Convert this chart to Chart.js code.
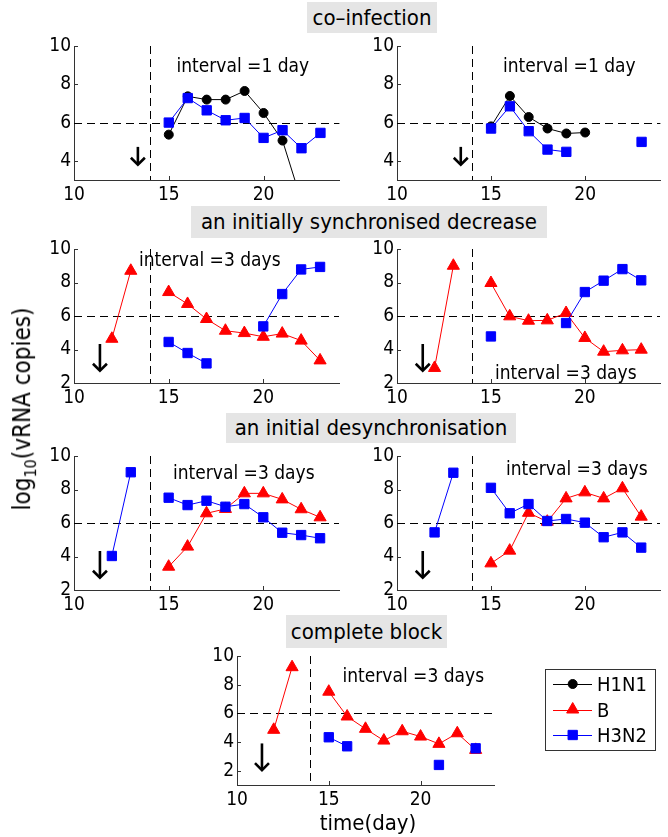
<!DOCTYPE html>
<html><head><meta charset="utf-8">
<script src="https://cdn.jsdelivr.net/npm/chart.js@4/dist/chart.umd.min.js"></script>
<style>
html,body{margin:0;padding:0;background:#fff;}
#root{position:relative;width:668px;height:837px;overflow:hidden;font-family:"DejaVu Sans Condensed","DejaVu Sans",sans-serif;color:#000;}
canvas.cv{position:absolute;}
.title{position:absolute;background:#e5e5e5;font-size:22px;text-align:center;white-space:nowrap;z-index:3;}
.txt{position:absolute;font-size:19px;white-space:nowrap;transform:translateY(-50%);z-index:3;}
#ylab{position:absolute;left:24px;top:409px;font-size:24px;white-space:nowrap;transform:translate(-50%,-50%) rotate(-90deg);}
#ylab sub{font-size:16px;}
#xlab{position:absolute;left:368px;top:822px;font-size:22px;white-space:nowrap;transform:translate(-50%,-50%);}
#legend{position:absolute;left:545px;top:669px;width:111px;height:82px;border:1px solid #333;box-sizing:border-box;background:#fff;}
#legend canvas{position:absolute;left:0;top:0;}
#legend span{position:absolute;left:51px;font-size:20px;transform:translateY(-50%);white-space:nowrap;}
</style></head><body><div id="root"></div>
<script>
// ---------------- data ----------------
const DAYS = [12, 13, 14, 15, 16, 17, 18, 19, 20, 21, 22, 23];
const X_TICKS = [10, 15, 20];
const Y_TICKS_TOP = [4, 6, 8, 10];
const Y_TICKS = [2, 4, 6, 8, 10];
const THRESHOLD_DAY = 14;
const THRESHOLD_LOAD = 6;
const SERIES_NAMES = ['H1N1', 'B', 'H3N2'];

const TITLES = ['co\u2013infection', 'an initially synchronised decrease', 'an initial desynchronisation', 'complete block'];
const INTERVAL_1 = 'interval =1 day';
const INTERVAL_3 = 'interval =3 days';

// panel 1 (co-infection, left)
const p1_H1N1 = [null, null, null, 5.37, 7.37, 7.2, 7.2, 7.65, 6.5, 5.06, 1.9, null];
const p1_H3N2 = [null, null, null, 6.0, 7.28, 6.64, 6.12, 6.24, 5.2, 5.6, 4.66, 5.46];
// panel 2 (co-infection, right)
const p2_H1N1 = [null, null, null, 5.8, 7.39, 6.29, 5.69, 5.43, 5.48, null, null, null];
const p2_H3N2 = [null, null, null, 5.69, 6.85, 5.55, 4.59, 4.47, null, null, null, 4.99];
// panel 3 (synchronised decrease, left)
const p3_B    = [4.64, 8.7, null, 7.43, 6.72, 5.82, 5.12, 4.98, 4.76, 4.95, 4.53, 3.35];
const p3_H3N2 = [null, null, null, 4.45, 3.79, 3.17, null, null, 5.38, 7.31, 8.78, 8.93];
// panel 4 (synchronised decrease, right)
const p4_B    = [2.9, 9.0, null, 7.97, 5.98, 5.72, 5.74, 6.18, 4.69, 3.87, 3.95, 3.99];
const p4_H3N2 = [null, null, null, 4.78, null, null, null, 5.58, 7.43, 8.11, 8.8, 8.13];
// panel 5 (desynchronisation, left)
const p5_B    = [null, null, null, 3.39, 4.59, 6.58, 6.84, 7.77, 7.77, 7.41, 6.82, 6.34];
const p5_H3N2 = [4.03, 9.03, null, 7.51, 7.07, 7.33, 6.97, 7.13, 6.34, 5.42, 5.28, 5.09];
// panel 6 (desynchronisation, right)
const p6_B    = [null, null, null, 3.59, 4.35, 6.61, 6.08, 7.47, 7.83, 7.47, 8.07, 6.38];
const p6_H3N2 = [5.44, 9.0, null, 8.1, 6.58, 7.13, 6.12, 6.24, 6.02, 5.15, 5.44, 4.53];
// panel 7 (complete block)
const p7_B    = [4.85, 9.22, null, 7.51, 5.78, 4.92, 4.1, 4.75, 4.38, 3.87, 4.61, 3.45];
const p7_H3N2 = [null, null, null, 4.33, 3.7, null, null, null, null, 2.4, null, 3.56];

// arrow annotations: [day, from, to]
const ARROW_P1 = [13.37, 4.73, 3.77];
const ARROW_P2 = [13.39, 4.73, 3.77];
const ARROW_LATE = [11.37, 4.33, 2.7];
const ARROW_P7 = [11.36, 3.9, 2.0];

// ---------------- styles / layout ----------------
const FONT = '"DejaVu Sans Condensed", "DejaVu Sans", sans-serif';
const STYLE = {
  H1N1: {color: '#000000', pointStyle: 'circle', radius: 4.5, order: 2},
  B:    {color: '#ff0000', pointStyle: 'triangle', radius: 7, order: 1},
  H3N2: {color: '#0000ff', pointStyle: 'rect', radius: 6.6, order: 0}
};
const WY = 46, HX = 32, PT = 16, PR = 3;

const PANELS = [
  {area: [74, 46, 270, 134], y: [3, 10], yt: Y_TICKS_TOP, s: {H1N1: p1_H1N1, H3N2: p1_H3N2}, arrow: ARROW_P1, text: [INTERVAL_1, 176.5, 65]},
  {area: [397, 46, 268, 134], y: [3, 10], yt: Y_TICKS_TOP, s: {H1N1: p2_H1N1, H3N2: p2_H3N2}, arrow: ARROW_P2, text: [INTERVAL_1, 503, 65]},
  {area: [74, 249, 270, 134], y: [2, 10], yt: Y_TICKS, s: {B: p3_B, H3N2: p3_H3N2}, arrow: ARROW_LATE, text: [INTERVAL_3, 139, 259]},
  {area: [397, 249, 268, 134], y: [2, 10], yt: Y_TICKS, s: {B: p4_B, H3N2: p4_H3N2}, arrow: ARROW_LATE, text: [INTERVAL_3, 495, 371.5]},
  {area: [74, 456, 270, 134], y: [2, 10], yt: Y_TICKS, s: {B: p5_B, H3N2: p5_H3N2}, arrow: ARROW_LATE, text: [INTERVAL_3, 173, 471.5]},
  {area: [397, 456, 268, 134], y: [2, 10], yt: Y_TICKS, s: {B: p6_B, H3N2: p6_H3N2}, arrow: ARROW_LATE, text: [INTERVAL_3, 506, 468]},
  {area: [237, 656, 262, 129], y: [1, 10], yt: Y_TICKS, s: {B: p7_B, H3N2: p7_H3N2}, arrow: ARROW_P7, text: [INTERVAL_3, 342.5, 675]}
];
const TITLE_BOXES = [
  [307, 2, 130, 31],
  [191, 206, 356, 32],
  [226, 413, 290, 30],
  [286, 615, 161, 33]
];

const root = document.getElementById('root');

const decor = {
  id: 'decor',
  beforeDatasetsDraw(chart, args, opts) {
    const {ctx, chartArea: a} = chart;
    const x = chart.scales.x, y = chart.scales.y;
    ctx.save();
    ctx.strokeStyle = '#333'; ctx.lineWidth = 1;
    x.ticks.forEach(t => {
      const px = Math.round(x.getPixelForValue(t.value)) + 0.5;
      ctx.beginPath(); ctx.moveTo(px, a.bottom); ctx.lineTo(px, a.bottom - 4); ctx.stroke();
    });
    y.ticks.forEach(t => {
      const py = Math.round(y.getPixelForValue(t.value)) + 0.5;
      ctx.beginPath(); ctx.moveTo(a.left, py); ctx.lineTo(a.left + 4, py); ctx.stroke();
    });
    ctx.strokeStyle = '#000'; ctx.setLineDash([8, 5]);
    const vx = Math.round(x.getPixelForValue(THRESHOLD_DAY)) + 0.5;
    ctx.beginPath(); ctx.moveTo(vx, a.top); ctx.lineTo(vx, a.bottom); ctx.stroke();
    const hy = Math.round(y.getPixelForValue(THRESHOLD_LOAD)) + 0.5;
    ctx.beginPath(); ctx.moveTo(a.left, hy); ctx.lineTo(a.right, hy); ctx.stroke();
    ctx.setLineDash([]);
    const ar = opts.arrow;
    const ax = x.getPixelForValue(ar[0]);
    const ay0 = y.getPixelForValue(ar[1]);
    const ay1 = y.getPixelForValue(ar[2]);
    ctx.lineWidth = 2.6; ctx.lineJoin = 'miter';
    ctx.beginPath(); ctx.moveTo(ax, ay0); ctx.lineTo(ax, ay1 - 1.5); ctx.stroke();
    ctx.beginPath(); ctx.moveTo(ax - 7, ay1 - 7.5); ctx.lineTo(ax, ay1 - 0.5); ctx.lineTo(ax + 7, ay1 - 7.5); ctx.stroke();
    ctx.restore();
  }
};

PANELS.forEach((p, i) => {
  const [l, t, w, h] = p.area;
  const cv = document.createElement('canvas');
  cv.className = 'cv';
  const cw = WY + w + PR, ch = PT + h + HX;
  cv.width = cw; cv.height = ch;
  cv.style.left = (l - WY) + 'px'; cv.style.top = (t - PT) + 'px';
  cv.style.width = cw + 'px'; cv.style.height = ch + 'px';
  root.appendChild(cv);

  const datasets = Object.keys(p.s).map(name => {
    const st = STYLE[name];
    return {
      label: name,
      data: DAYS.map((d, k) => ({x: d, y: p.s[name][k]})),
      borderColor: st.color, backgroundColor: st.color,
      borderWidth: 1, pointStyle: st.pointStyle, pointRadius: st.radius,
      pointBorderWidth: 1, pointBackgroundColor: st.color, pointBorderColor: st.color,
      spanGaps: false, tension: 0, order: st.order
    };
  });

  new Chart(cv, {
    type: 'line',
    data: {datasets},
    options: {
      responsive: false, animation: false, devicePixelRatio: 1,
      layout: {padding: {left: 0, top: PT, right: PR, bottom: 0}},
      plugins: {legend: {display: false}, tooltip: {enabled: false}, decor: {arrow: p.arrow}},
      scales: {
        x: {
          type: 'linear', min: 10, max: 24,
          grid: {display: false, drawTicks: false},
          border: {display: true, color: '#333', width: 1},
          ticks: {font: {size: 19, family: FONT}, color: '#000', padding: 4, maxRotation: 0, autoSkip: false},
          afterBuildTicks: s => { s.ticks = X_TICKS.map(v => ({value: v})); },
          afterFit: s => { s.height = HX; }
        },
        y: {
          type: 'linear', min: p.y[0], max: p.y[1],
          grid: {display: false, drawTicks: false},
          border: {display: true, color: '#333', width: 1},
          ticks: {font: {size: 19, family: FONT}, color: '#000', padding: 3, autoSkip: false},
          afterBuildTicks: s => { s.ticks = p.yt.map(v => ({value: v})); },
          afterFit: s => { s.width = WY; }
        }
      }
    },
    plugins: [decor]
  });

  const tx = document.createElement('div');
  tx.className = 'txt';
  tx.textContent = p.text[0];
  tx.style.left = p.text[1] + 'px'; tx.style.top = p.text[2] + 'px';
  root.appendChild(tx);
});

TITLES.forEach((txt, i) => {
  const [l, t, w, h] = TITLE_BOXES[i];
  const d = document.createElement('div');
  d.className = 'title';
  d.textContent = txt;
  d.style.left = l + 'px'; d.style.top = t + 'px';
  d.style.width = w + 'px'; d.style.height = h + 'px'; d.style.lineHeight = h + 'px';
  root.appendChild(d);
});

const yl = document.createElement('div');
yl.id = 'ylab';
yl.innerHTML = 'log<sub>10</sub>(vRNA copies)';
root.appendChild(yl);
const xl = document.createElement('div');
xl.id = 'xlab';
xl.textContent = 'time(day)';
root.appendChild(xl);

const lg = document.createElement('div');
lg.id = 'legend';
const lc = document.createElement('canvas');
lc.width = 109; lc.height = 80;
lg.appendChild(lc);
const lctx = lc.getContext('2d');
const ROW_Y = [14, 39.5, 65];
SERIES_NAMES.forEach((name, k) => {
  const st = STYLE[name];
  const yy = ROW_Y[k];
  lctx.strokeStyle = st.color; lctx.fillStyle = st.color; lctx.lineWidth = 1;
  lctx.beginPath(); lctx.moveTo(7, Math.round(yy) + 0.5); lctx.lineTo(46, Math.round(yy) + 0.5); lctx.stroke();
  Chart.helpers.drawPoint(lctx, {pointStyle: st.pointStyle, radius: st.radius, rotation: 0, borderWidth: 1}, 26.7, yy);
  const sp = document.createElement('span');
  sp.textContent = name;
  sp.style.top = yy + 'px';
  lg.appendChild(sp);
});
root.appendChild(lg);
</script>
</body></html>
